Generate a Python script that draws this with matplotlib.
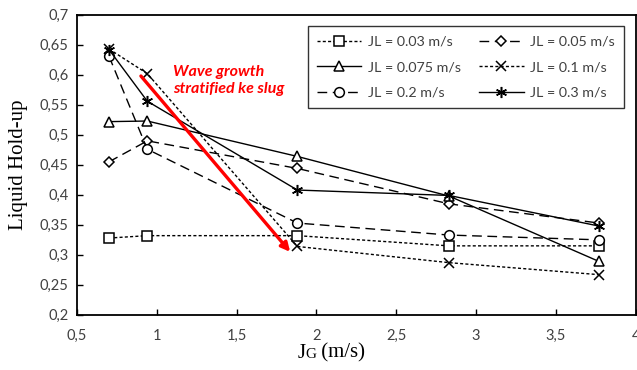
import matplotlib
matplotlib.use('Agg')
import matplotlib.pyplot as plt
from matplotlib.offsetbox import TextArea, HPacker, AnchoredOffsetbox

# Superficial gas velocity (m/s)
JG = [0.70, 0.94, 1.88, 2.83, 3.77]

# Liquid hold-up for each liquid superficial velocity
JL_LABELS = ['JL = 0.03 m/s', 'JL = 0.05 m/s', 'JL = 0.075 m/s',
             'JL = 0.1 m/s', 'JL = 0.2 m/s', 'JL = 0.3 m/s']
HL_003 = [0.328, 0.332, 0.332, 0.315, 0.315]
HL_005 = [0.455, 0.490, 0.444, 0.385, 0.353]
HL_0075 = [0.522, 0.523, 0.464, 0.398, 0.289]
HL_01 = [0.643, 0.602, 0.314, 0.287, 0.267]
HL_02 = [0.631, 0.476, 0.353, 0.333, 0.325]
HL_03 = [0.642, 0.556, 0.408, 0.399, 0.348]

# Arrow annotation (data coords)
ARROW_START = (0.90, 0.598)
ARROW_END = (1.835, 0.305)
NOTE = 'Wave growth\nstratified ke slug'

TICK_FONT = 'Lato'
SERIF = 'Liberation Serif'

fig = plt.figure(figsize=(6.37, 3.70), dpi=100)
ax = fig.add_axes([0.121, 0.149, 0.877, 0.811])

short = (0, (2.2, 1.6))
long_ = (0, (7, 4))
styles = [
    (HL_003, short, 's', 6.5),
    (HL_005, long_, 'D', 5.5),
    (HL_0075, '-', '^', 7.5),
    (HL_01, short, 'x', 7),
    (HL_02, long_, 'o', 7),
    (HL_03, '-', (6, 2, 0), 8),
]

lines = []
for (vals, ls, mk, ms), lab in zip(styles, JL_LABELS):
    ln, = ax.plot(JG, vals, linestyle=ls, color='black', linewidth=1.0,
                  marker=mk, markersize=ms, markerfacecolor='white',
                  markeredgecolor='black', markeredgewidth=1.1, label=lab)
    lines.append(ln)

ax.annotate('', xy=ARROW_END, xytext=ARROW_START,
            arrowprops=dict(arrowstyle='-|>', color='#ff0000', lw=2.4,
                            mutation_scale=13, shrinkA=0, shrinkB=0))
ax.text(1.10, 0.591, NOTE, color='#ff0000', fontsize=11.5, fontweight='bold',
        fontstyle='italic', family=TICK_FONT, linespacing=1.3, va='center')

ax.set_xlim(0.5, 4)
ax.set_ylim(0.2, 0.7)
ax.set_xticks([0.5, 1, 1.5, 2, 2.5, 3, 3.5, 4])
ax.set_xticklabels(['0,5', '1', '1,5', '2', '2,5', '3', '3,5', '4'])
yt = [0.2, 0.25, 0.3, 0.35, 0.4, 0.45, 0.5, 0.55, 0.6, 0.65, 0.7]
ax.set_yticks(yt)
ax.set_yticklabels([('%g' % v).replace('.', ',') for v in yt])
ax.tick_params(direction='in', length=4, width=1, labelsize=10.5, colors='black')
ax.tick_params(axis='x', pad=10)
ax.tick_params(axis='y', pad=6)
for lbl in ax.get_xticklabels() + ax.get_yticklabels():
    lbl.set_family(TICK_FONT)
    lbl.set_color('#404040')
for sp in ax.spines.values():
    sp.set_linewidth(1.3)

ax.set_ylabel('Liquid Hold-up', family=SERIF, fontsize=15)
ax.yaxis.set_label_coords(-0.087, 0.5)

# x label "JG (m/s)" with a smaller G
parts = [TextArea('J', textprops=dict(family=SERIF, size=15)),
         TextArea('G', textprops=dict(family=SERIF, size=11)),
         TextArea(' (m/s)', textprops=dict(family=SERIF, size=15))]
pack = HPacker(children=parts, pad=0, sep=0, align='baseline')
xl = AnchoredOffsetbox(loc='center', child=pack, frameon=False,
                       bbox_to_anchor=(0.52, 0.045), bbox_transform=fig.transFigure,
                       borderpad=0, pad=0)
fig.add_artist(xl)

order = [0, 2, 4, 1, 3, 5]
leg = ax.legend([lines[i] for i in order], [JL_LABELS[i] for i in order],
                ncol=2, loc='upper right', bbox_to_anchor=(0.992, 0.985),
                frameon=True, fancybox=False, edgecolor='black',
                prop={'family': TICK_FONT, 'size': 10.3}, handlelength=3.1,
                columnspacing=1.3, labelspacing=0.95, borderpad=0.65,
                handletextpad=0.45)
leg.get_frame().set_linewidth(1.0)
for t in leg.get_texts():
    t.set_color('#404040')

fig.savefig('out.png', dpi=100)
